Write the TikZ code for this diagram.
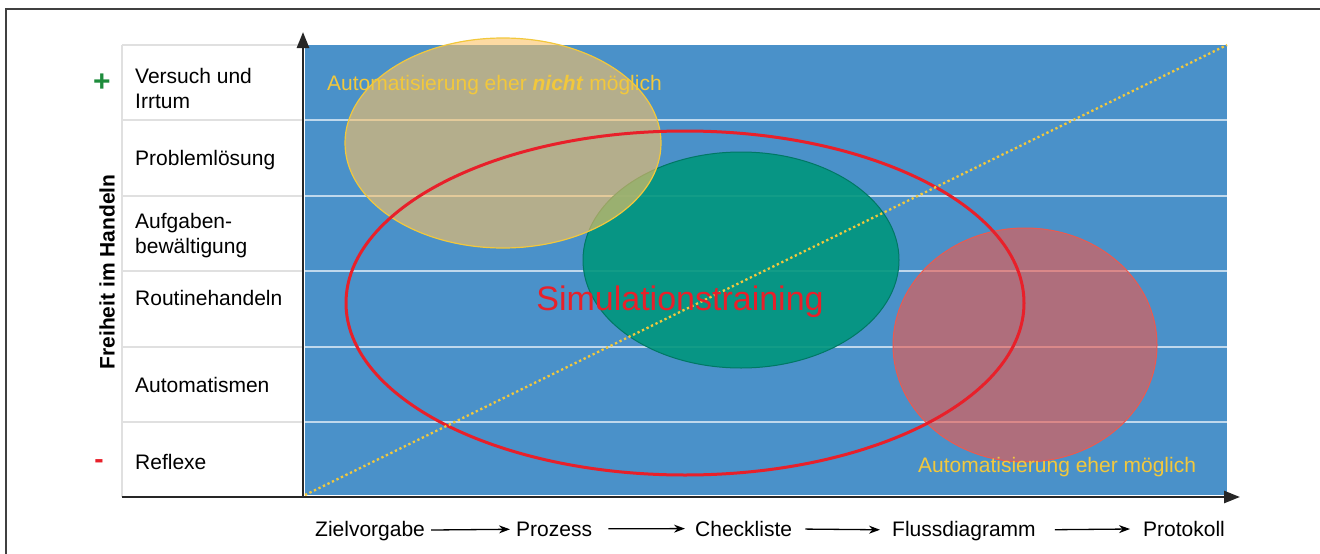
\documentclass[tikz,border=0pt]{standalone}
\usepackage{fontspec}
\setmainfont{Liberation Sans}
\usetikzlibrary{arrows.meta}
\definecolor{chartblue}{RGB}{74,145,201}
\definecolor{ellyellow}{RGB}{252,194,100}
\definecolor{ellgreen}{RGB}{0,150,125}
\definecolor{ellpink}{RGB}{235,90,80}
\definecolor{simred}{RGB}{232,32,42}
\definecolor{txtyellow}{RGB}{242,200,60}
\definecolor{plusgreen}{RGB}{30,140,60}
\begin{document}
\begin{tikzpicture}[x=1pt,y=-1pt,
    lbl/.style={font=\fontsize{21}{25}\selectfont, anchor=base west, align=left, inner sep=0pt},
    flow/.style={-{Stealth[length=11pt,width=8pt]}, line width=1.3pt, shorten <=10pt, shorten >=10pt},
    axis/.style={-{Triangle[length=16pt,width=12pt]}, line width=2.6pt, black!85},
    rowline/.style={line width=2pt, black!12}]
  \useasboundingbox (0,0) rectangle (1320,554);
  % frame
  \draw[line width=1.6pt, black!75] (6,570) -- (6,9) -- (1340,9);
  % chart area
  \fill[chartblue] (305,45) rectangle (1227,495);
  \draw[rowline] (122,45) -- (303,45);
  \draw[rowline] (122,45) -- (122,497);
  \foreach \y in {120,196,271,347,422} {
    \draw[rowline] (122,\y) -- (303,\y);
    \draw[line width=2pt, white, opacity=0.65] (305,\y) -- (1227,\y);
  }
  % ellipses
  \draw[ellgreen!80!black, line width=1pt, fill=ellgreen, fill opacity=0.9] (741,260) ellipse [x radius=158, y radius=108];
  \draw[ellpink, line width=1pt, fill=ellpink, fill opacity=0.63] (1025,345) ellipse [x radius=132, y radius=117];
  \draw[txtyellow, line width=1.2pt, fill=ellyellow, fill opacity=0.6] (503,143) ellipse [x radius=158, y radius=105];
  \draw[simred, line width=3pt] (685,303) ellipse [x radius=339, y radius=172];
  % diagonal
  \coordinate (lo) at (305,495);
  \coordinate (hi) at (1227,45);
  \draw[txtyellow, line width=2.3pt, dash pattern=on 2.3pt off 2.7pt] (lo) -- (hi);
  % axes
  \coordinate (origin) at (303,497);
  \coordinate (left) at (122,497);
  \coordinate (ytip) at (303,32);
  \coordinate (xtip) at (1240,497);
  \draw[axis] (origin) -- (ytip);
  \draw[axis] (left) -- (xtip);
  % texts in chart
  \node[lbl, txtyellow] (nicht) at (327,90) {Automatisierung eher \textbf{\textit{nicht}} möglich};
  \node[lbl, txtyellow] (eher) at (918,472) {Automatisierung eher möglich};
  \node[font=\fontsize{34}{40}\selectfont, simred, inner sep=0pt, anchor=base] (sim) at (680,310) {Simulationstraining};
  % left labels
  \node[lbl] (versuch) at (135,108) {Versuch und\\Irrtum};
  \node[lbl] (problem) at (135,165) {Problemlösung};
  \node[lbl] (aufgaben) at (135,253) {Aufgaben-\\bewältigung};
  \node[lbl] (routine) at (135,305) {Routinehandeln};
  \node[lbl] (automat) at (135,392) {Automatismen};
  \node[lbl] (reflexe) at (135,469) {Reflexe};
  \node[font=\fontsize{30}{30}\selectfont\bfseries, plusgreen, inner sep=0pt] (plus) at (102,83) {+};
  \node[font=\fontsize{28}{28}\selectfont\bfseries, simred, inner sep=0pt] (minus) at (99,464) {-};
  \node[font=\fontsize{21}{25}\selectfont\bfseries, rotate=90, inner sep=0pt] (freiheit) at (107,272) {Freiheit im Handeln};
  % bottom flow
  \node[lbl] (ziel) at (315,536) {Zielvorgabe};
  \node[lbl] (prozess) at (516,536) {Prozess};
  \node[lbl] (check) at (695,536) {Checkliste};
  \node[lbl] (fluss) at (892,536) {Flussdiagramm};
  \node[lbl] (protokoll) at (1143,536) {Protokoll};
  \draw[flow, shorten <=6pt, shorten >=6pt] (ziel) -- (prozess);
  \draw[flow, shorten <=16pt] (prozess) -- (check);
  \draw[flow, shorten <=13pt, shorten >=12pt] (check) -- (fluss);
  \draw[flow, shorten <=19pt, shorten >=13pt] (fluss) -- (protokoll);
\end{tikzpicture}
\end{document}
